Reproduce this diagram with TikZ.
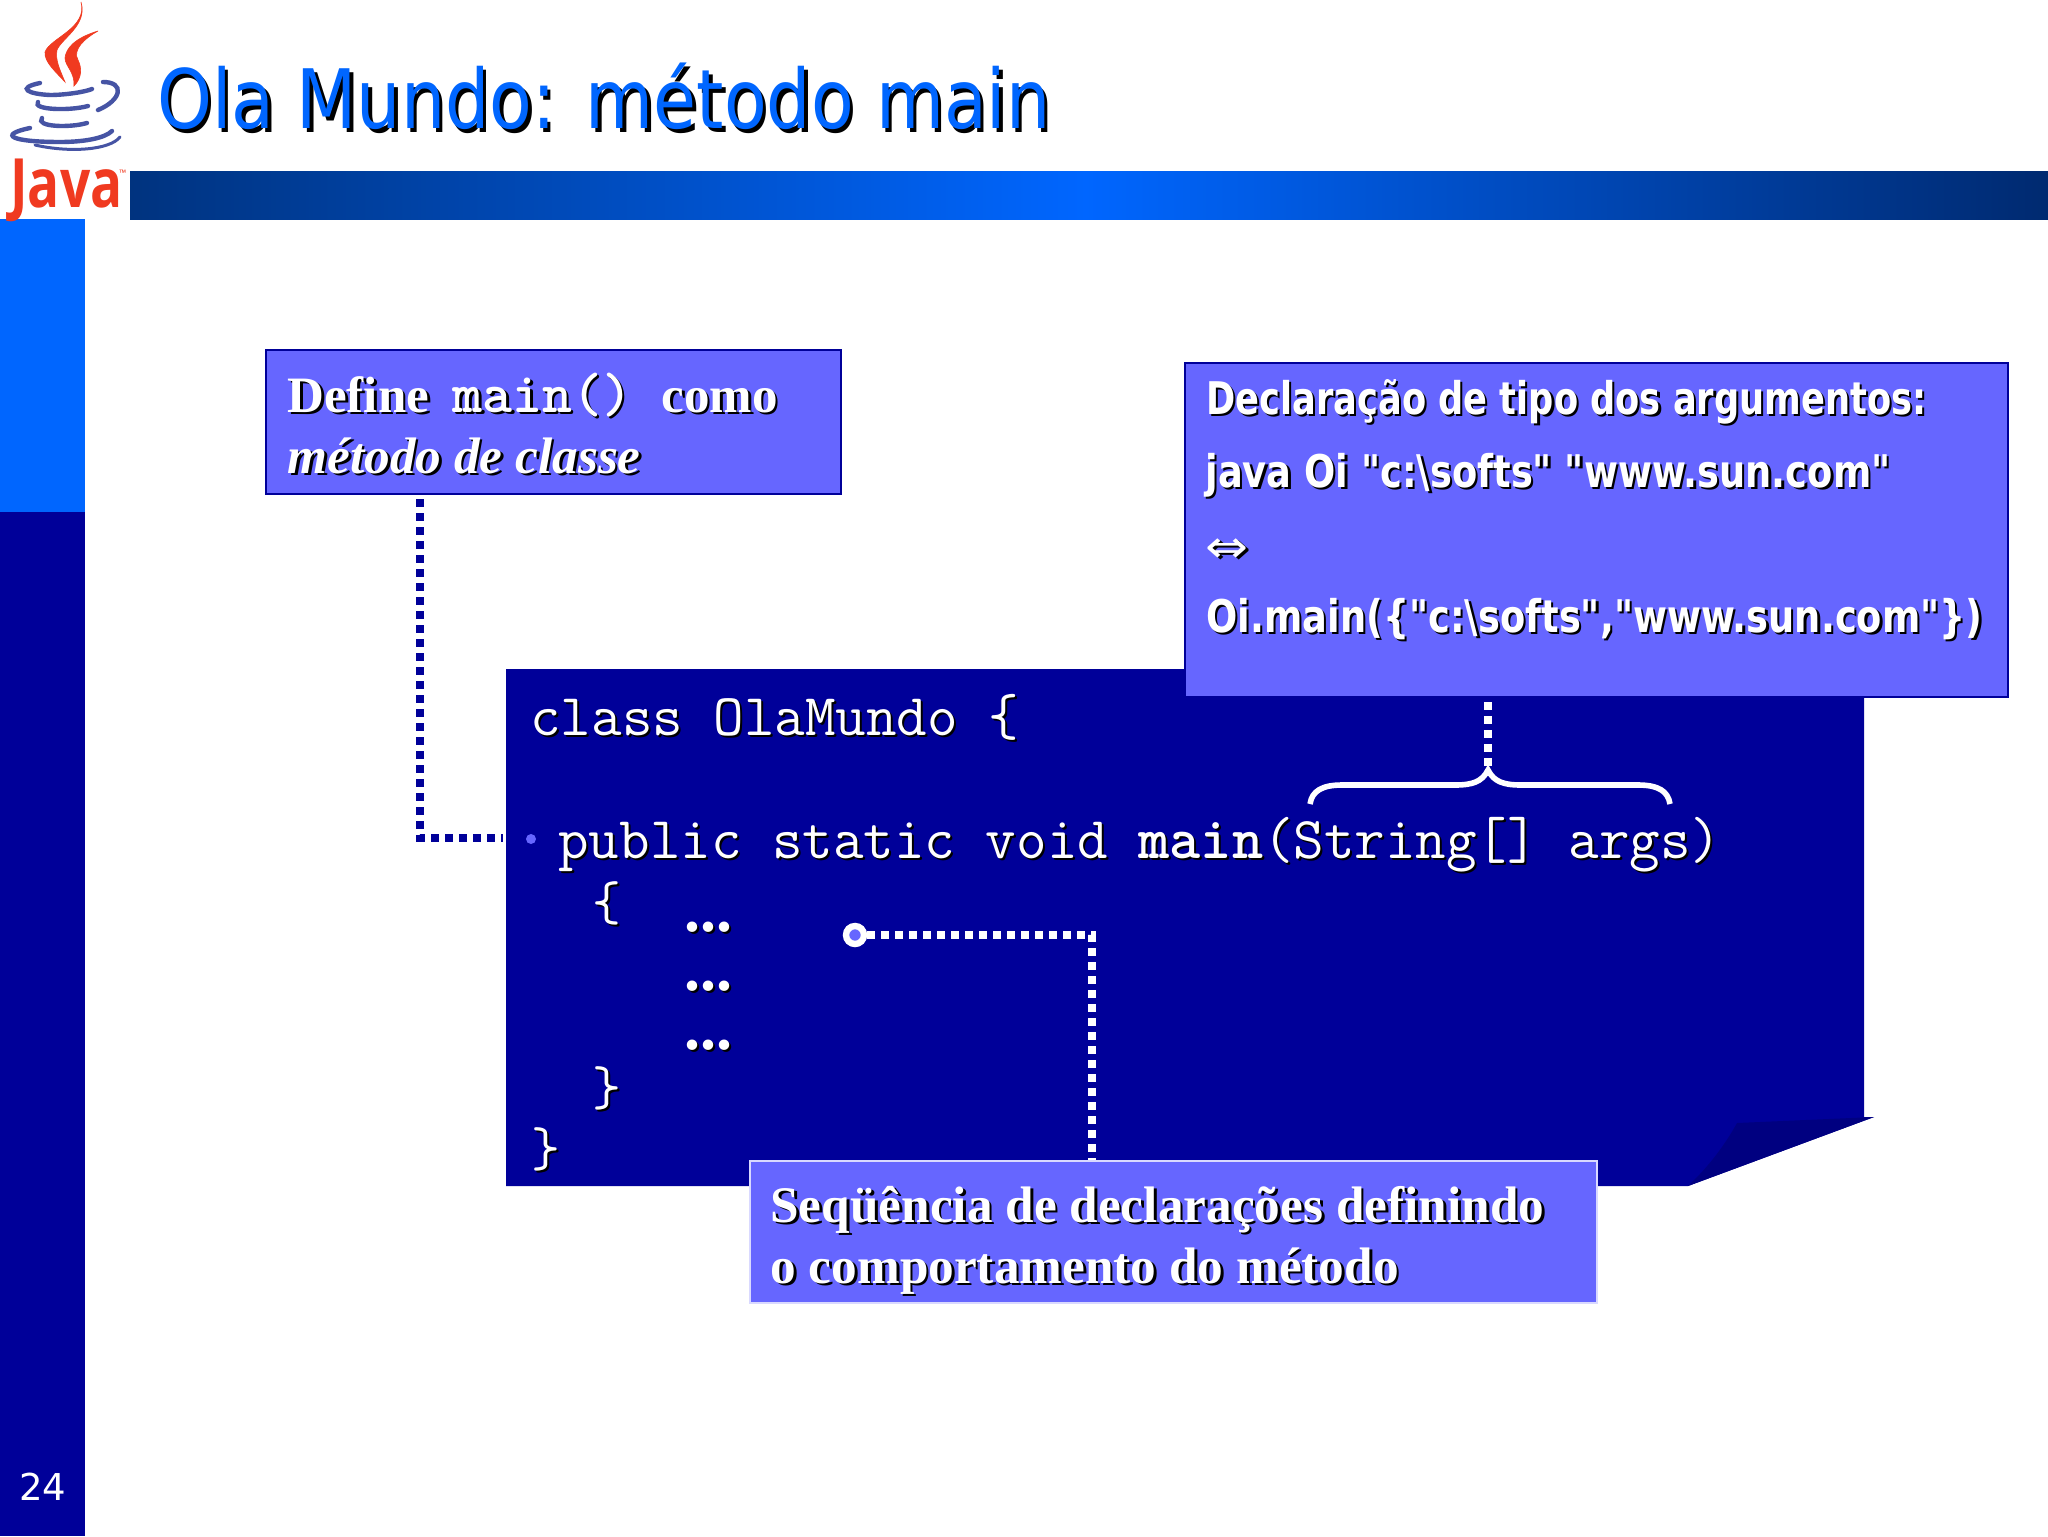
\documentclass[tikz,border=0pt]{standalone}
\usepackage{fontspec}
\usepackage{graphicx}
\setmainfont{Liberation Serif}
\newfontfamily\vfont{DejaVu Sans}
\newfontfamily\ofont{Open Sans}
\definecolor{navy}{HTML}{000099}
\definecolor{foldnavy}{HTML}{000080}
\definecolor{lilac}{HTML}{6666FF}
\definecolor{bright}{HTML}{0066FF}
\definecolor{barl}{HTML}{00337F}
\definecolor{barr}{HTML}{002A70}
\definecolor{javared}{HTML}{F03A20}
\definecolor{javablue}{HTML}{4654A4}
% size in reference pixels (1 px = 0.5pt)
\newcommand{\fsz}[1]{\fontsize{\dimexpr #1pt/2\relax}{\dimexpr #1pt/2\relax}\selectfont}
\newcommand{\sh}[2]{\leavevmode\rlap{\raisebox{-#1}{\kern#1\textcolor{black}{#2}}}#2}
\newcommand{\fitw}[2]{\resizebox{\dimexpr #1pt/2\relax}{\height}{#2}}
\tikzset{
  x=0.5pt,y=-0.5pt,
  label text/.style={anchor=base west,inner sep=0pt,text=white},
  callout/.style={anchor=north west,inner sep=0pt,fill=lilac,draw=navy,line width=1pt},
  dotline/.style={line width=4pt,dash pattern=on 4pt off 3pt},
  flame/.style={fill=javared,draw=javared,line width=0.3pt},
  cupline/.style={draw=javablue,line width=2.2pt,line cap=round},
}
\begin{document}
\begin{tikzpicture}
\useasboundingbox (0,0) rectangle (2048,1536);
\fill[white] (0,0) rectangle (2048,1536);
% frame
\fill[bright] (0,219) rectangle (85,512);
\fill[navy] (0,512) rectangle (85,1536);
\shade[left color=barl,right color=bright] (130,171) rectangle (1086,219);
\shade[left color=bright,right color=barr] (1085,171) rectangle (2048,219);
\node[label text,anchor=base] (pageno) at (43,1500) {\vfont\fsz{37}24};
% logo
\path[flame] (81,2) .. controls (88,28) and (50,38) .. (45,52) .. controls (44,62) and (56,72) .. (65,82) .. controls (60,70) and (55,60) .. (57,50) .. controls (62,38) and (88,25) .. (81,2);
\path[flame] (98,31) .. controls (75,38) and (66,48) .. (65,58) .. controls (65,66) and (75,72) .. (74,86) .. controls (82,78) and (82,68) .. (78,60) .. controls (72,50) and (85,38) .. (98,31);
\draw[cupline] (40,83) .. controls (16,88) and (28,94) .. (50,95) .. controls (65,95) and (85,92) .. (92,89);
\draw[cupline] (103,82) .. controls (125,82) and (122,100) .. (98,110);
\draw[cupline] (38,102) .. controls (32,110) and (70,111) .. (88,106);
\draw[cupline] (42,118) .. controls (35,127) and (70,128) .. (87,123);
\draw[cupline] (30,128) .. controls (-3,135) and (12,142) .. (60,142) .. controls (85,142) and (105,138) .. (112,131);
\draw[cupline,line width=1.5pt] (35,145) .. controls (70,153) and (110,150) .. (120,137);
\node[label text,text=javared] (java) at (10,207) {\fitw{112}{\ofont\bfseries\fsz{68}Java}};
\node[label text,text=javared] (tm) at (119,176) {\ofont\fsz{9}™};
% title
\node[label text,text=bright] (title) at (157,128) {\fitw{893}{\sh{2pt}{\vfont\fsz{82}Ola Mundo: método main}}};
% code panel
\fill[navy] (506,669) -- (1864,669) -- (1864,1117) -- (1874,1117) -- (1688,1186) -- (506,1186) -- cycle;
\fill[foldnavy] (1874,1117) -- (1737,1123) .. controls (1722,1150) and (1705,1170) .. (1688,1186) -- cycle;
% callouts
\node[callout,minimum width=287.6pt,minimum height=72pt] (box1) at (265,349) {};
\node[callout,minimum width=411.6pt,minimum height=167pt] (box2) at (1184,362) {};
\node[callout,draw=white!75!lilac,minimum width=423.6pt,minimum height=71pt] (box3) at (749,1160) {};
% code
\node[label text] (l1) at (530,735) {\ttfamily\fsz{59.3}\sh{1pt}{class OlaMundo \{}};
\node[circle,fill=lilac,minimum size=5pt,inner sep=0pt] (bullet) at (531,839) {};
\node[label text] (l2) at (558,858) {\ttfamily\fsz{59.3}\sh{1pt}{public static void \textbf{main}(String[] args)}};
\node[label text] (l3) at (592,920) {\ttfamily\fsz{56}\sh{1pt}{\{}};
\node[label text] (d1) at (684,931) {\bfseries\fsz{64}\sh{1pt}{...}};
\node[label text] (d2) at (684,990) {\bfseries\fsz{64}\sh{1pt}{...}};
\node[label text] (d3) at (684,1049) {\bfseries\fsz{64}\sh{1pt}{...}};
\node[label text] (l4) at (592,1105) {\ttfamily\fsz{56}\sh{1pt}{\}}};
\node[label text] (l5) at (531,1166) {\ttfamily\fsz{56}\sh{1pt}{\}}};
% callout 1 text
\node[label text] (t1a) at (287,412) {\bfseries\fsz{51}\sh{1.4pt}{Define}};
\node[label text] (t1b) at (452,412) {\ttfamily\bfseries\fsz{57}\sh{1.4pt}{main()}};
\node[label text] (t1c) at (661,412) {\bfseries\fsz{51}\sh{1.4pt}{como}};
\node[label text] (t1d) at (287,473) {\bfseries\itshape\fsz{51.3}\sh{1.4pt}{método de classe}};
% callout 2 text
\node[label text] (t2a) at (1206,414) {\fitw{720}{\sh{1.4pt}{\vfont\bfseries\fsz{45}Declaração de tipo dos argumentos:}}};
\node[label text] (t2b) at (1205,487) {\fitw{685}{\sh{1.4pt}{\vfont\bfseries\fsz{45}java Oi "c:\textbackslash softs" "www.sun.com"}}};
\node[label text] (t2c) at (1205,562) {\fitw{43}{\sh{1.4pt}{\vfont\fsz{45}⇔}}};
\node[label text] (t2d) at (1206,632) {\fitw{776}{\sh{1.4pt}{\vfont\bfseries\fsz{45}Oi.main(\{"c:\textbackslash softs","www.sun.com"\})}}};
% callout 3 text
\node[label text] (t3a) at (770,1222) {\bfseries\fsz{51.3}\sh{1.4pt}{Seqüência de declarações definindo}};
\node[label text] (t3b) at (770,1283) {\bfseries\fsz{51.3}\sh{1.4pt}{o comportamento do método}};
% connectors
\coordinate (bend1) at (420,838);
\coordinate (pub) at (503,838);
\draw[navy,dotline,shorten <=2pt] (box1.south -| bend1) |- (pub);
\node[circle,fill=lilac,draw=white,line width=3.2pt,minimum size=9pt,inner sep=0pt] (ring) at (855,935) {};
\coordinate (bend3) at (1092,1160);
\draw[white,dotline] (ring.east) -| (box3.north -| bend3);
\coordinate (peak) at (1488,770);
\draw[white,dotline,shorten <=2pt] (box2.south -| peak) -- (peak);
\draw[white,line width=2.8pt] (1310,804) .. controls (1312,791) and (1322,785) .. (1342,785) -- (1455,785) .. controls (1472,785) and (1482,782) .. (peak) .. controls (1494,782) and (1504,785) .. (1521,785) -- (1638,785) .. controls (1658,785) and (1668,791) .. (1670,804);
\end{tikzpicture}
\end{document}
